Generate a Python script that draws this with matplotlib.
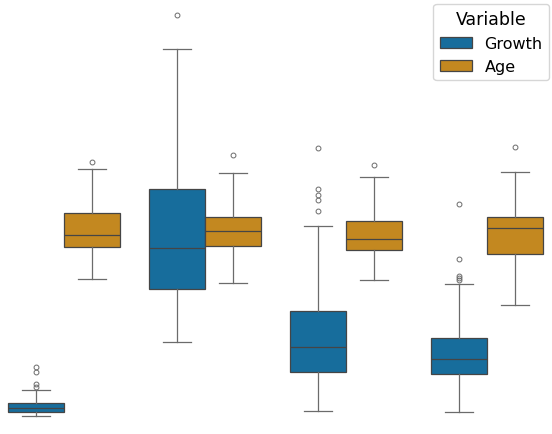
import matplotlib
matplotlib.use("Agg")
import matplotlib.pyplot as plt
import seaborn as sns
from matplotlib.patches import Patch

categories = ["A", "B", "C", "D"]
variables = ["Growth", "Age"]

# box statistics per category (whislo, q1, med, q3, whishi)
growth_whislo = [4.6, 23.1, 5.7, 5.6]
growth_q1 = [5.4, 36.2, 15.6, 15.1]
growth_med = [6.6, 46.4, 21.75, 18.75]
growth_q3 = [7.7, 61.25, 30.7, 24.1]
growth_whishi = [10.9, 96.2, 52.0, 37.5]
growth_fliers = [[11.75, 12.5, 15.6, 16.7],
                 [104.75],
                 [55.7, 58.5, 59.8, 61.2, 71.5],
                 [38.6, 39.1, 39.5, 43.75, 57.4]]

age_whislo = [38.7, 37.7, 38.6, 32.3]
age_q1 = [46.8, 46.9, 46.0, 45.1]
age_med = [49.7, 50.7, 48.7, 51.5]
age_q3 = [55.25, 54.2, 53.3, 54.2]
age_whishi = [66.25, 65.3, 64.3, 65.4]
age_fliers = [[68.1], [69.8], [67.2], [71.8]]

pal = sns.color_palette("colorblind", 2)
colors = [sns.desaturate(c, 0.75) for c in pal]
edgecolor = (0.27, 0.27, 0.27)
wcolor = (0.42, 0.42, 0.42)

fig = plt.figure(figsize=(5.52, 4.35), dpi=100)
ax = fig.add_axes([0, 0, 1, 1])
ax.axis("off")

def make_stats(wl, q1, md, q3, wh, fl):
    return [dict(whislo=a, q1=b, med=c, q3=d, whishi=e, fliers=f)
            for a, b, c, d, e, f in zip(wl, q1, md, q3, wh, fl)]

series = [
    make_stats(growth_whislo, growth_q1, growth_med, growth_q3, growth_whishi, growth_fliers),
    make_stats(age_whislo, age_q1, age_med, age_q3, age_whishi, age_fliers),
]
offsets = [-0.2, 0.2]
for stats, off, col in zip(series, offsets, colors):
    pos = [i + off for i in range(len(categories))]
    ax.bxp(stats, positions=pos, widths=0.4, capwidths=0.2, patch_artist=True,
           boxprops=dict(facecolor=col, edgecolor=edgecolor, linewidth=0.9),
           whiskerprops=dict(color=wcolor, linewidth=0.9),
           capprops=dict(color=wcolor, linewidth=0.9),
           medianprops=dict(color=edgecolor, linewidth=0.9),
           flierprops=dict(marker="o", markersize=3.5, markerfacecolor="none",
                           markeredgecolor=wcolor, markeredgewidth=0.7),
           manage_ticks=False)

ax.set_xlim(-64 / 141, (552 - 64) / 141)
ax.set_ylim(0, 435 / 4)

handles = [Patch(facecolor=c, edgecolor=edgecolor, linewidth=0.9) for c in colors]
fig.legend(handles, variables, title="Variable", loc="upper right",
           bbox_to_anchor=(549 / 552, 1 - 4.5 / 435), borderaxespad=0,
           fontsize=11.5, title_fontsize=12.5)

fig.savefig("out.png", dpi=100)
